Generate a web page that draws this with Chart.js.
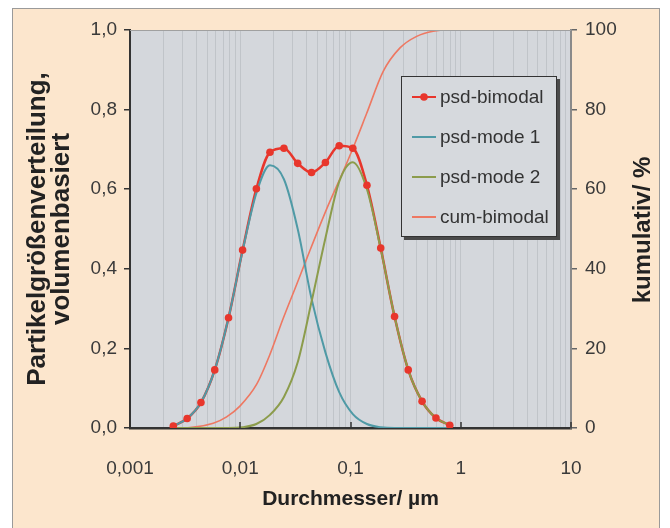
<!DOCTYPE html>
<html>
<head>
<meta charset="utf-8">
<script src="https://cdn.jsdelivr.net/npm/chart.js@4"></script>
<style>
  html, body { margin: 0; padding: 0; background: #fff; }
  #wrap { width: 670px; height: 528px; }
</style>
</head>
<body>
<div id="wrap"><canvas id="graph-1" width="670" height="528"></canvas></div>
<script>
// Durchmesser in µm (Stützstellen der Kurven)
const diameters = [0.00247, 0.0033, 0.0044, 0.00587, 0.00783, 0.0105, 0.014, 0.0186, 0.0249, 0.0332,
  0.0443, 0.0592, 0.079, 0.105, 0.141, 0.188, 0.251, 0.334, 0.446, 0.596, 0.795];
const psdBimodal = [0.005, 0.024, 0.064, 0.146, 0.277, 0.447, 0.601, 0.693, 0.703, 0.665,
  0.642, 0.667, 0.709, 0.703, 0.610, 0.452, 0.280, 0.146, 0.067, 0.025, 0.007];
const psdMode1 = [0.005, 0.024, 0.064, 0.146, 0.277, 0.445, 0.59, 0.66, 0.625, 0.5,
  0.325, 0.19, 0.09, 0.035, 0.01, 0.002, 0, 0, 0, 0, 0];
const psdMode2 = [0, 0, 0, 0, 0, 0.002, 0.01, 0.033, 0.078, 0.165,
  0.317, 0.477, 0.619, 0.668, 0.6, 0.45, 0.28, 0.146, 0.067, 0.025, 0.007];

// kumulative Kurve (rechte Achse, %)
const cumDiameters = [0.0025, 0.0035, 0.00569, 0.00753, 0.00993, 0.0141, 0.0186, 0.0245, 0.0324, 0.04,
  0.0607, 0.0859, 0.1096, 0.14, 0.198, 0.281, 0.398, 0.562, 0.794, 10];
const cumBimodal = [0, 0.1, 1.2, 2.8, 5.5, 11, 18.5, 27.5, 36, 42.5,
  55, 64.5, 71.5, 79, 89.6, 95.5, 98.4, 99.7, 100, 100];

const xDecades = [0.001, 0.01, 0.1, 1, 10];
const xTickLabels = ['0,001', '0,01', '0,1', '1', '10'];
const seriesNames = ['psd-bimodal', 'psd-mode 1', 'psd-mode 2', 'cum-bimodal'];

const RED = '#e8362c';
const TEAL = '#4f9aa6';
const OLIVE = '#8c9c4c';
const SALMON = '#ee7862';
const FONT = "'Liberation Sans', Arial, sans-serif";

const pts = (xs, ys) => xs.map((x, i) => ({ x: x, y: ys[i] }));

const data = {
  datasets: [
    { label: seriesNames[0], data: pts(diameters, psdBimodal), borderColor: RED, borderWidth: 2.5,
      pointRadius: 0, cubicInterpolationMode: 'monotone', yAxisID: 'y', order: 5 },
    { label: seriesNames[1], data: pts(diameters, psdMode1), borderColor: TEAL, borderWidth: 2,
      pointRadius: 0, cubicInterpolationMode: 'monotone', yAxisID: 'y', order: 3 },
    { label: seriesNames[2], data: pts(diameters, psdMode2), borderColor: OLIVE, borderWidth: 2,
      pointRadius: 0, cubicInterpolationMode: 'monotone', yAxisID: 'y', order: 2 },
    { label: seriesNames[3], data: pts(cumDiameters, cumBimodal), borderColor: SALMON, borderWidth: 1.6,
      pointRadius: 0, cubicInterpolationMode: 'monotone', yAxisID: 'y2', order: 4 },
    // Marker der bimodalen Kurve obenauf
    { label: 'marker', data: pts(diameters, psdBimodal), showLine: false, pointRadius: 3.8,
      pointBackgroundColor: RED, pointBorderWidth: 0, yAxisID: 'y', order: 0 }
  ]
};

const isDecade = v => xDecades.findIndex(d => Math.abs(Math.log10(v) - Math.log10(d)) < 1e-6);

const backdrop = {
  id: 'backdrop',
  beforeDraw(chart) {
    const { ctx, chartArea: a } = chart;
    ctx.save();
    ctx.fillStyle = '#ffffff';
    ctx.fillRect(0, 0, chart.width, chart.height);
    ctx.fillStyle = '#fce6cd';
    ctx.fillRect(12, 8, 648, 530);
    ctx.strokeStyle = '#9a9a9a';
    ctx.lineWidth = 1;
    ctx.strokeRect(12.5, 8.5, 647, 530);
    ctx.fillStyle = '#d4d7dc';
    ctx.fillRect(a.left, a.top, a.right - a.left, a.bottom - a.top);
    ctx.restore();
  },
  afterDraw(chart) {
    const { ctx, chartArea: a, scales } = chart;
    ctx.save();
    // obere Rahmenlinie
    ctx.strokeStyle = '#a0a0a0';
    ctx.lineWidth = 1;
    ctx.beginPath();
    ctx.moveTo(a.left, a.top + 0.5);
    ctx.lineTo(a.right, a.top + 0.5);
    ctx.stroke();
    // Hauptstriche nach innen
    ctx.strokeStyle = '#333';
    ctx.lineWidth = 1.5;
    xDecades.forEach(d => {
      const px = Math.round(scales.x.getPixelForValue(d));
      ctx.beginPath();
      ctx.moveTo(px, a.bottom);
      ctx.lineTo(px, a.bottom - 6);
      ctx.stroke();
    });
    // rechter Achsentitel
    ctx.fillStyle = '#222';
    ctx.font = 'bold 24px ' + FONT;
    ctx.textAlign = 'center';
    ctx.textBaseline = 'middle';
    ctx.translate(643, 230);
    ctx.rotate(-Math.PI / 2);
    ctx.fillText('kumulativ/ %', 0, 0);
    ctx.restore();
  }
};

const legendBox = {
  id: 'legendBox',
  afterDatasetsDraw(chart) {
    const { ctx, chartArea: a } = chart;
    const x = a.left + 271, y = a.top + 46, w = 156, h = 161;
    ctx.save();
    ctx.fillStyle = '#4a4a4a';
    ctx.fillRect(x + 3, y + 3, w, h);
    ctx.fillStyle = '#d6d9dd';
    ctx.fillRect(x, y, w, h);
    ctx.strokeStyle = '#333';
    ctx.lineWidth = 1;
    ctx.strokeRect(x + 0.5, y + 0.5, w - 1, h - 1);
    ctx.font = '19px ' + FONT;
    ctx.textBaseline = 'middle';
    ctx.textAlign = 'left';
    seriesNames.forEach((name, i) => {
      const ds = chart.data.datasets[i];
      const cy = y + 21 + i * 40;
      ctx.strokeStyle = ds.borderColor;
      ctx.lineWidth = 2;
      ctx.beginPath();
      ctx.moveTo(x + 11, cy);
      ctx.lineTo(x + 35, cy);
      ctx.stroke();
      if (i === 0) {
        ctx.fillStyle = RED;
        ctx.beginPath();
        ctx.arc(x + 23, cy, 3.8, 0, Math.PI * 2);
        ctx.fill();
      }
      ctx.fillStyle = '#333';
      ctx.fillText(name, x + 39, cy + 1);
    });
    ctx.restore();
  }
};

const config = {
  type: 'line',
  data: data,
  options: {
    responsive: false,
    animation: false,
    layout: { padding: { top: 30, left: 0, right: 0, bottom: 0 } },
    plugins: { legend: { display: false }, tooltip: { enabled: false } },
    scales: {
      x: {
        type: 'logarithmic',
        min: 0.001,
        max: 10,
        afterBuildTicks(scale) {
          const t = [];
          for (let e = -3; e <= 1; e++) {
            for (let k = 1; k <= 9; k++) {
              const v = +(k * Math.pow(10, e)).toPrecision(3);
              if (v <= 10) t.push({ value: v });
            }
          }
          scale.ticks = t;
        },
        afterFit(scale) { scale.height = 100; },
        grid: { color: '#c0c4c9', lineWidth: 1, drawTicks: false },
        border: { color: '#333', width: 2.5 },
        ticks: {
          autoSkip: false, maxRotation: 0, padding: 29,
          color: '#3a3a3a', font: { family: FONT, size: 19 },
          callback: v => { const i = isDecade(v); return i >= 0 ? xTickLabels[i] : ''; }
        },
        title: {
          display: true, text: 'Durchmesser/ µm', color: '#222',
          font: { family: FONT, size: 21, weight: 'bold', lineHeight: 1 },
          padding: { top: 0, bottom: 18 }
        }
      },
      y: {
        position: 'left',
        min: 0, max: 1,
        afterFit(scale) { scale.width = 130; },
        grid: { drawOnChartArea: false, tickLength: 6, color: '#333', lineWidth: 1.5 },
        border: { color: '#333', width: 2 },
        ticks: {
          stepSize: 0.2, padding: 7, color: '#3a3a3a', font: { family: FONT, size: 19 },
          callback: v => v.toFixed(1).replace('.', ',')
        },
        title: {
          display: true, text: ['Partikelgrößenverteilung,', 'volumenbasiert'], color: '#222',
          font: { family: FONT, size: 26, weight: 'bold', lineHeight: 0.95 },
          padding: { top: 25, bottom: 0 }
        }
      },
      y2: {
        position: 'right',
        min: 0, max: 100,
        afterFit(scale) { scale.width = 99; },
        grid: { drawOnChartArea: false, tickLength: 6, color: '#666', lineWidth: 1.5 },
        border: { color: '#8a8a8a', width: 2 },
        ticks: { stepSize: 20, padding: 8, color: '#3a3a3a', font: { family: FONT, size: 19 } }
      }
    }
  },
  plugins: [backdrop, legendBox]
};

const chart = new Chart(document.querySelector('#graph-1'), config);
</script>
</body>
</html>
